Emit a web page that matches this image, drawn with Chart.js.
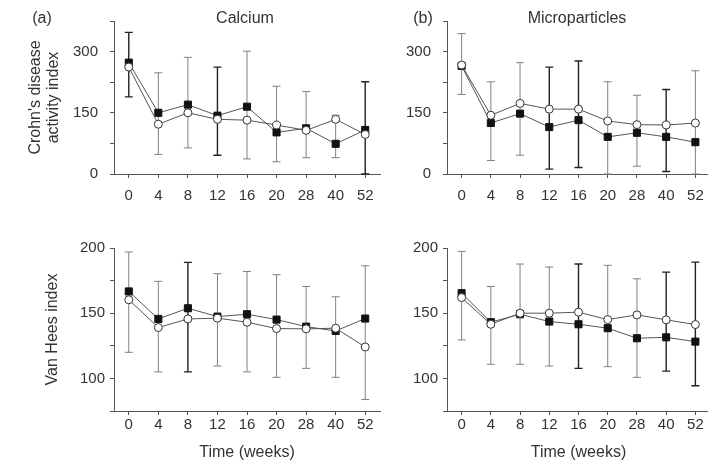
<!DOCTYPE html>
<html>
<head>
<meta charset="utf-8">
<script src="https://cdn.jsdelivr.net/npm/chart.js@4.4.1/dist/chart.umd.min.js"></script>
<style>
  body { margin: 0; width: 708px; height: 463px; overflow: hidden; background: #fff; position: relative;
         font-family: "Liberation Sans", Arial, sans-serif; color: #333; }
  .panel { position: absolute; }
  .lbl { position: absolute; font-size: 16px; transform: translate(-50%, -50%); white-space: nowrap; }
</style>
</head>
<body>
<div class="panel" style="left:0;top:0;width:395px;height:215px"><canvas id="calciumCdai"></canvas></div>
<div class="panel" style="left:395px;top:0;width:320px;height:215px"><canvas id="microCdai"></canvas></div>
<div class="panel" style="left:0;top:215px;width:395px;height:248px"><canvas id="calciumVh"></canvas></div>
<div class="panel" style="left:395px;top:215px;width:320px;height:248px"><canvas id="microVh"></canvas></div>

<div class="lbl" style="left:42px;top:18px">(a)</div>
<div class="lbl" style="left:245px;top:18px">Calcium</div>
<div class="lbl" style="left:423px;top:18px">(b)</div>
<div class="lbl" style="left:577px;top:18px">Microparticles</div>

<script>
// weeks on the x axis
const weeks = ['0', '4', '8', '12', '16', '20', '28', '40', '52'];
const cdaiTicks = [0, 150, 300];
const vanHeesTicks = [100, 150, 200];

// (a) Calcium - Crohn's disease activity index
const calciumCdaiFilled = [273, 150, 170, 143, 165, 102, 112, 74, 108];
const calciumCdaiOpen = [262, 122, 150, 134, 132, 120, 107, 134, 97];
const calciumCdaiLow = [189, 48, 64, 46, 37, 30, 40, 40, 0];
const calciumCdaiHigh = [347, 248, 286, 262, 301, 215, 202, 144, 226];
const calciumCdaiGroup = ['filled', 'open', 'open', 'filled', 'open', 'open', 'open', 'open', 'filled'];

// (b) Microparticles - Crohn's disease activity index
const microCdaiFilled = [265, 125, 148, 115, 132, 91, 101, 91, 78];
const microCdaiOpen = [267, 144, 173, 159, 159, 130, 121, 120, 125];
const microCdaiLow = [195, 33, 46, 12, 16, 0, 19, 6, 0];
const microCdaiHigh = [344, 226, 273, 262, 277, 226, 193, 207, 253];
const microCdaiGroup = ['open', 'open', 'open', 'filled', 'filled', 'open', 'open', 'filled', 'open'];

// Calcium - Van Hees index
const calciumVhFilled = [166.7, 145.6, 153.8, 147.4, 149.2, 145.1, 139.7, 136.4, 145.9];
const calciumVhOpen = [160.3, 139, 145.6, 146.2, 143.1, 138.2, 138, 138.5, 124.1];
const calciumVhLow = [120, 105, 105, 109.5, 105, 100.8, 107.7, 100.8, 83.8];
const calciumVhHigh = [197, 174.4, 189, 180.3, 182, 179.5, 170.5, 162.6, 186.4];
const calciumVhGroup = ['open', 'open', 'filled', 'open', 'open', 'open', 'open', 'open', 'open'];

// Microparticles - Van Hees index
const microVhFilled = [165.4, 143.1, 149.2, 143.6, 141.5, 138.5, 130.8, 131.5, 128.2];
const microVhOpen = [162, 141.5, 150, 150, 150.8, 145.1, 148.7, 144.9, 141.3];
const microVhLow = [129.5, 110.8, 110.8, 109.5, 107.7, 109, 100.8, 105.6, 94.4];
const microVhHigh = [197.4, 170.5, 187.7, 185.4, 187.7, 186.7, 176.4, 181.5, 189.2];
const microVhGroup = ['open', 'open', 'open', 'open', 'filled', 'open', 'open', 'filled', 'filled'];

const FONT = '"Liberation Sans", Arial, sans-serif';
const TEXT = '#333';
const AXIS = '#555';

const errorBars = {
  id: 'errorBars',
  beforeDatasetsDraw(chart, args, opts) {
    const { ctx, scales: { x, y } } = chart;
    ctx.save();
    opts.low.forEach((lo, i) => {
      const px = x.getPixelForValue(i);
      const yl = y.getPixelForValue(lo);
      const yh = y.getPixelForValue(opts.high[i]);
      const dark = opts.group[i] === 'filled';
      ctx.strokeStyle = dark ? '#222' : '#808080';
      ctx.lineWidth = dark ? 1.4 : 1;
      ctx.beginPath();
      ctx.moveTo(px, yl); ctx.lineTo(px, yh);
      ctx.moveTo(px - 4, yh); ctx.lineTo(px + 4, yh);
      ctx.moveTo(px - 4, yl); ctx.lineTo(px + 4, yl);
      ctx.stroke();
    });
    ctx.restore();
  }
};

function makeChart(id, p) {
  new Chart(document.getElementById(id), {
    type: 'line',
    data: {
      labels: weeks,
      datasets: [
        {
          data: p.open,
          borderColor: '#555', borderWidth: 1,
          pointStyle: 'circle', pointRadius: 4,
          pointBackgroundColor: '#fff', pointBorderColor: '#333', pointBorderWidth: 1
        },
        {
          data: p.filled,
          borderColor: '#555', borderWidth: 1,
          pointStyle: 'rect', pointRadius: 5,
          pointBackgroundColor: '#111', pointBorderColor: '#111', pointBorderWidth: 1
        }
      ]
    },
    options: {
      responsive: true,
      maintainAspectRatio: false,
      animation: false,
      layout: { autoPadding: false, padding: { top: p.padTop, right: p.padRight, left: 0, bottom: 0 } },
      plugins: {
        legend: { display: false },
        tooltip: { enabled: false },
        errorBars: { low: p.low, high: p.high, group: p.group }
      },
      scales: {
        x: {
          offset: true,
          grid: { drawOnChartArea: false, drawTicks: true, tickLength: 4, color: AXIS, offset: false },
          border: { color: AXIS, width: 1 },
          ticks: { color: TEXT, font: { family: FONT, size: 15, lineHeight: 1 }, padding: p.xPad, maxRotation: 0, autoSkip: false },
          title: p.xTitle ? { display: true, text: 'Time (weeks)', color: TEXT, font: { family: FONT, size: 16 }, padding: { top: 0, bottom: 1 } } : { display: false },
          afterFit: s => { s.height = p.xHeight; }
        },
        y: {
          min: p.min, max: p.max,
          grid: { drawOnChartArea: false, drawTicks: true, tickLength: 4, color: AXIS },
          border: { color: AXIS, width: 1 },
          ticks: {
            stepSize: p.step, color: TEXT, font: { family: FONT, size: 15 }, padding: p.yPad,
            callback: v => p.labels.includes(v) ? String(v) : ''
          },
          title: p.yTitle ? { display: true, text: p.yTitle, color: TEXT, font: { family: FONT, size: 16, lineHeight: 1.1 }, padding: { top: p.yTitlePad, bottom: 0 } } : { display: false },
          afterFit: s => { s.width = p.yWidth; }
        }
      }
    },
    plugins: [errorBars]
  });
}

const topPanel = { min: 0, max: 375, step: 75, labels: cdaiTicks, padTop: 13, xHeight: 41, xPad: 10, yPad: 12 };
const bottomPanel = { min: 75, max: 200, step: 25, labels: vanHeesTicks, padTop: 33, xHeight: 52, xPad: 2, yPad: 5, xTitle: true };

makeChart('calciumCdai', Object.assign({}, topPanel, {
  open: calciumCdaiOpen, filled: calciumCdaiFilled, low: calciumCdaiLow, high: calciumCdaiHigh, group: calciumCdaiGroup,
  yWidth: 114, padRight: 15, yTitle: ["Crohn's disease", 'activity index'], yTitlePad: 27
}));
makeChart('microCdai', Object.assign({}, topPanel, {
  open: microCdaiOpen, filled: microCdaiFilled, low: microCdaiLow, high: microCdaiHigh, group: microCdaiGroup,
  yWidth: 52, padRight: 5
}));
makeChart('calciumVh', Object.assign({}, bottomPanel, {
  open: calciumVhOpen, filled: calciumVhFilled, low: calciumVhLow, high: calciumVhHigh, group: calciumVhGroup,
  yWidth: 114, padRight: 15, yTitle: 'Van Hees index', yTitlePad: 44
}));
makeChart('microVh', Object.assign({}, bottomPanel, {
  open: microVhOpen, filled: microVhFilled, low: microVhLow, high: microVhHigh, group: microVhGroup,
  yWidth: 52, padRight: 5
}));
</script>
</body>
</html>
